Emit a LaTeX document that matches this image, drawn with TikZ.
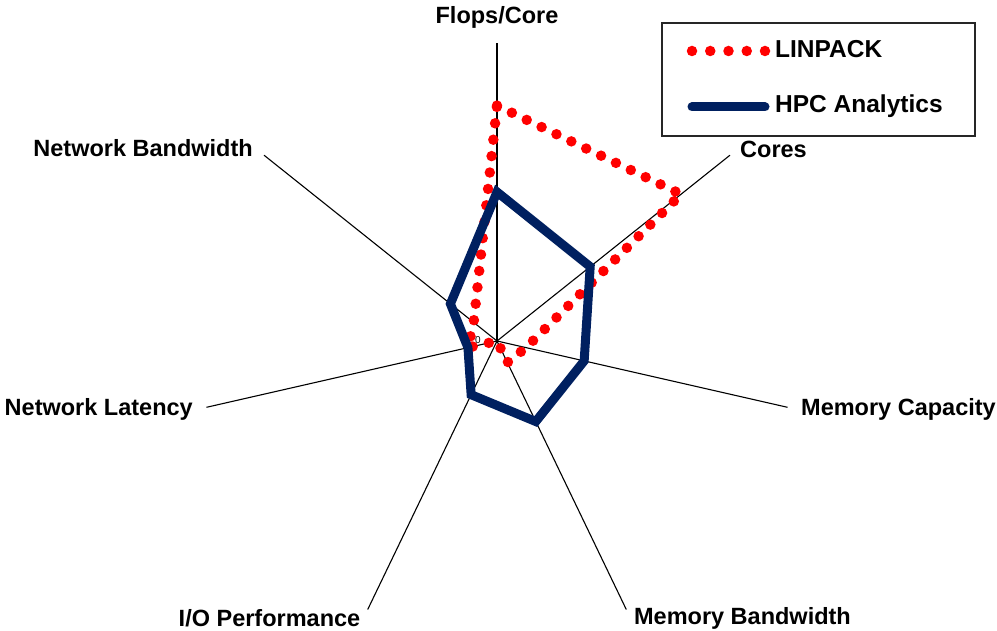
\documentclass[tikz,border=0pt]{standalone}
\usepackage{fontspec}
\setmainfont{Liberation Sans}
\definecolor{navy}{RGB}{0,32,96}
\definecolor{lpred}{RGB}{255,0,0}
\begin{document}
\begin{tikzpicture}[x=1pt,y=-1pt,
  lbl/.style={font=\fontsize{23.5}{25}\selectfont\bfseries, inner sep=0pt},
  leglbl/.style={font=\fontsize{24.5}{26}\selectfont\bfseries, inner sep=0pt},
  axisline/.style={black, line width=1.1pt},
  linser/.style={lpred, line width=10.5pt, line cap=round, dash pattern=on 0pt off 16.5pt},
  hpcser/.style={navy, line width=9pt, line join=miter},
  legbox/.style={draw=black!85, line width=1.3pt, minimum width=313pt, minimum height=113pt, inner sep=0pt}]
\useasboundingbox (0,0) rectangle (997,631);
\coordinate (O) at (497,341);
% axes
\foreach \i/\n in {0/fc,1/co,2/mc,3/mb,4/io,5/nl,6/nb}{
  \coordinate (ax\n) at ([shift={({-(90-\i*51.428571)}:298)}]O);
  \draw[axisline] (O) -- (ax\n);
}
% data points
\foreach \i/\n/\l/\h in {0/fc/7.9/5,1/co/7.9/4,2/mc/1/3,3/mb/0.8/3,4/io/0/2,5/nl/1/1,6/nb/1/2}{
  \coordinate (l\n) at ([shift={({-(90-\i*51.428571)}:{\l*29.8})}]O);
  \coordinate (h\n) at ([shift={({-(90-\i*51.428571)}:{\h*29.8})}]O);
}
\draw[linser] (lfc) -- (lco) -- (lmc) -- (lmb) -- (lio) -- (lnl) -- (lnb) -- cycle;
\draw[hpcser] (hfc) -- (hco) -- (hmc) -- (hmb) -- (hio) -- (hnl) -- (hnb) -- cycle;
\node[font=\fontsize{10}{11}\selectfont, inner sep=0pt] (zero) at (478,340) {0};
% axis labels
\node[lbl] (tfc) at (497,17) {Flops/Core};
\node[lbl,anchor=west] (tco) at (740,149) {Cores};
\node[lbl,anchor=east] (tnb) at (253,148) {Network Bandwidth};
\node[lbl,anchor=west] (tmc) at (801,409) {Memory Capacity};
\node[lbl,anchor=east] (tnl) at (193,409) {Network Latency};
\node[lbl] (tmb) at (742.5,618) {Memory Bandwidth};
\node[lbl] (tio) at (269.5,618) {I/O Performance};
% legend
\node[legbox,fill=white] (leg) at (818.5,79.5) {};
\coordinate (lega) at (692,51);
\coordinate (legb) at (765,51);
\coordinate (legc) at (692,107);
\coordinate (legd) at (765,107);
\draw[linser, dash pattern=on 0pt off 18.25pt] (lega) -- (legb);
\draw[hpcser, line cap=round] (legc) -- (legd);
\node[leglbl,anchor=west] (tlin) at (775,49) {LINPACK};
\node[leglbl,anchor=west] (thpc) at (775,106) {HPC Analytics};
\end{tikzpicture}
\end{document}
